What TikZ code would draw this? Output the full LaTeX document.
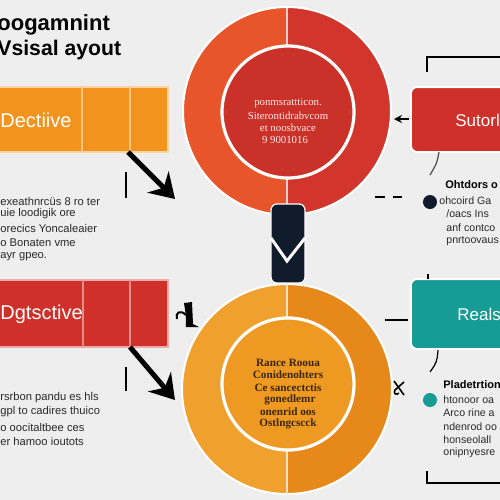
\documentclass[tikz,border=0pt]{standalone}
\usepackage{fontspec}
\setmainfont{Liberation Sans}
\newfontfamily\serifx{Liberation Serif}
\usetikzlibrary{arrows.meta}
\definecolor{bg}{HTML}{EEEEEE}
\definecolor{orng}{HTML}{F2931D}
\definecolor{redb}{HTML}{D0302A}
\definecolor{teal}{HTML}{179B95}
\definecolor{navy}{HTML}{101B2B}
\definecolor{topL}{HTML}{E9552B}
\definecolor{topR}{HTML}{D1352B}
\definecolor{topIn}{HTML}{C93129}
\definecolor{botL}{HTML}{F0A02C}
\definecolor{botR}{HTML}{E6891A}
\definecolor{botIn}{HTML}{EE9A22}
\definecolor{ink}{HTML}{2A2A2A}
\definecolor{brown}{HTML}{3A260C}
\tikzset{
  boxtxt/.style={inner sep=0pt, text=white, font=\fontsize{10}{10}\selectfont},
  boxtxtr/.style={inner sep=0pt, text=white, font=\fontsize{8.5}{9}\selectfont},
  body/.style={inner sep=0pt, anchor=west, text=ink, font=\fontsize{5.6}{6}\selectfont},
  bodyr/.style={inner sep=0pt, anchor=west, text=ink, font=\fontsize{5.3}{6}\selectfont},
  bodyhead/.style={inner sep=0pt, anchor=west, text=black, font=\bfseries\fontsize{5.5}{6}\selectfont},
  circw/.style={inner sep=0pt, text=white!92!red, font=\serifx\fontsize{5.4}{6}\selectfont},
  circb/.style={inner sep=0pt, text=brown, font=\serifx\bfseries\fontsize{5.6}{6}\selectfont},
  bigarrow/.style={line width=2.5pt, black, -{Stealth[length=12pt,width=15pt,inset=4pt]}},
  thinline/.style={line width=0.6pt, black},
  divline/.style={line width=0.6pt}
}
\begin{document}
\begin{tikzpicture}[x=0.5pt,y=-0.5pt]
\clip (0,0) rectangle (500,500);
\fill[bg] (0,0) rectangle (500,500);

% title
\node[inner sep=0pt, anchor=west, font=\bfseries\fontsize{11}{11}\selectfont] (t1) at (-3,25) {oogamnint};
\node[inner sep=0pt, anchor=west, font=\bfseries\fontsize{10.6}{11}\selectfont] (t2) at (-3,50) {Vsisal ayout};

% top ring
\begin{scope}\clip (0,0) rectangle (287,500); \fill[topL] (287,111) circle (104); \end{scope}
\begin{scope}\clip (287,0) rectangle (500,500); \fill[topR] (287,111) circle (104); \end{scope}
\draw[white, line width=1pt] (287,111) circle (104);
\draw[divline, white!75!topR] (287,8) -- (287,46);
\draw[divline, white!75!topR] (287,178) -- (287,214);
\fill[topIn] (288,112) circle (66);
\draw[white, line width=1.6pt] (288,112) circle (66);
\node[circw] (c1) at (288,103) {ponmsrattticon.};
\node[circw] (c2) at (288,116) {Siterontidrabvcom};
\node[circw] (c3) at (288,128) {et noosbvace};
\node[circw] (c4) at (285,140) {9 9001016};

% bottom ring
\begin{scope}\clip (0,0) rectangle (287,500); \fill[botL] (287,389) circle (105); \end{scope}
\begin{scope}\clip (287,0) rectangle (500,500); \fill[botR] (287,389) circle (105); \end{scope}
\draw[white, line width=1pt] (287,389) circle (105);
\draw[divline, white!75!botR] (287,284) -- (287,318);
\draw[divline, white!75!botR] (287,450) -- (287,494);
\fill[botIn] (288,384) circle (66);
\draw[white, line width=1.6pt] (288,384) circle (66);
\node[circb] (d1) at (288,363) {Rance Rooua};
\node[circb] (d2) at (288,375) {Conidenohters};
\node[circb] (d3) at (288,388) {Ce sancectctis};
\node[circb] (d4) at (290,400) {gonedlemr};
\node[circb] (d5) at (288,412) {onenrid oos};
\node[circb] (d6) at (288,424) {Ostlngcscck};

% navy connector block
\draw[fill=navy, draw=white, line width=0.6pt, rounded corners=3pt] (271,204) rectangle (305,283);
\draw[white, line width=1.5pt] (271,238) -- (287,261) -- (305,238);

% left boxes
\draw[fill=orng, draw=white!60!orng, line width=0.6pt] (-2,87) rectangle (168,152);
\draw[divline, white!45!orng] (82,87) -- (82,152);
\draw[divline, white!45!orng] (130,87) -- (130,152);
\node[boxtxt, anchor=west] (o1) at (0,120) {Dectiive};
\coordinate (o1s) at (128,152);
\coordinate (o1e) at (175,199);
\draw[bigarrow] (o1s) -- (o1e);
\coordinate (v1a) at (126,172); \coordinate (v1b) at (126,198);
\draw[thinline] (v1a) -- (v1b);

\draw[fill=redb, draw=white!60!redb, line width=0.6pt] (-2,280) rectangle (168,347);
\draw[divline, white!45!redb] (83,280) -- (83,347);
\draw[divline, white!45!redb] (130,280) -- (130,347);
\node[boxtxt, anchor=west] (r1) at (0,314) {Dgtsctive};
\coordinate (r1s) at (130,347);
\coordinate (r1e) at (175,400);
\draw[bigarrow] (r1s) -- (r1e);
\coordinate (v2a) at (126,367); \coordinate (v2b) at (126,391);
\draw[thinline] (v2a) -- (v2b);

% hook icon
\fill[black] (184,303) -- (192,302) -- (193,324) -- (199,327) -- (186,327) -- (186,316) -- cycle;
\draw[black, line width=1pt] (186,315) .. controls (180,309) and (175,313) .. (177,319);

% left text blocks
\node[body] (la1) at (0,201) {exeathnrcüs 8 ro ter};
\node[body] (la2) at (0,214) {uie loodigik ore};
\node[body] (la3) at (0,228) {orecics Yoncaleaier};
\node[body] (la4) at (0,243) {o Bonaten vme};
\node[body] (la5) at (0,257) {ayr gpeo.};

\node[body] (lb1) at (0,398) {rsrbon pandu es hls};
\node[body] (lb2) at (0,412) {gpl to cadires thuico};
\node[body] (lb3) at (0,427) {o oocitaltbee ces};
\node[body] (lb4) at (0,441) {er hamoo ioutots};

% right top box
\draw[fill=redb, draw=white, line width=1pt, rounded corners=3pt] (411,87) rectangle (520,152);
\node[boxtxtr, anchor=west] (s1) at (455,120) {Sutorl};
\coordinate (br1) at (427,72); \coordinate (br2) at (427,57); \coordinate (br3) at (505,57);
\draw[thinline, line width=0.9pt] (br1) -- (br2) -- (br3);
\coordinate (sa1) at (409,119); \coordinate (sa2) at (394,119);
\draw[thinline, -{Stealth[length=4pt,width=4pt]}] (sa1) -- (sa2);
\coordinate (sl1) at (439,152); \coordinate (sl2) at (430,175);
\draw[thinline, gray!60!black] (sl1) .. controls (437,163) .. (sl2);

% right middle text
\coordinate (dd1) at (375,197); \coordinate (dd2) at (402,197);
\draw[thinline, dash pattern=on 5pt off 4pt] (dd1) -- (dd2);
\fill[navy] (430,202) circle (7);
\node[bodyhead] (h1) at (445,185) {Ohtdors o};
\node[bodyr] (m1) at (439,201) {ohcoird Ga};
\node[bodyr] (m2) at (446,214) {/oacs Ins};
\node[bodyr] (m3) at (446,228) {anf contco};
\node[bodyr] (m4) at (446,241) {pnrtoovaus};

% right bottom teal box
\draw[fill=teal, draw=white, line width=1pt, rounded corners=3pt] (411,279) rectangle (520,349);
\node[boxtxtr, anchor=west] (e1) at (457,314) {Reals};
\coordinate (tk1) at (428,274); \coordinate (tk2) at (428,279);
\draw[thinline] (tk1) -- (tk2);
\coordinate (tl1) at (385,320); \coordinate (tl2) at (408,320);
\draw[thinline] (tl1) -- (tl2);
\coordinate (tb1) at (438,350); \coordinate (tb2) at (430,372);
\draw[thinline] (tb1) .. controls (437,362) .. (tb2);

% scissors-like mark
\draw[thinline, line width=0.8pt] (394,381) -- (404,395);
\draw[thinline, line width=0.8pt] (404,382) -- (395,390) .. controls (393,393) and (396,396) .. (399,393);

% right bottom text
\fill[teal] (430,400) circle (7);
\node[bodyhead] (h2) at (443,385) {Pladetrtion};
\node[bodyr] (n1) at (443,400) {htonoor oa};
\node[bodyr] (n2) at (443,413) {Arco rine a};
\node[bodyr] (n3) at (443,427) {ndenrod oo};
\node[bodyr] (n4) at (443,440) {honseolall};
\node[bodyr] (n5) at (443,453) {onipnyesre};
\coordinate (bb1) at (427,471); \coordinate (bb2) at (427,483); \coordinate (bb3) at (505,483);
\draw[thinline, line width=0.9pt] (bb1) -- (bb2) -- (bb3);
\end{tikzpicture}
\end{document}
